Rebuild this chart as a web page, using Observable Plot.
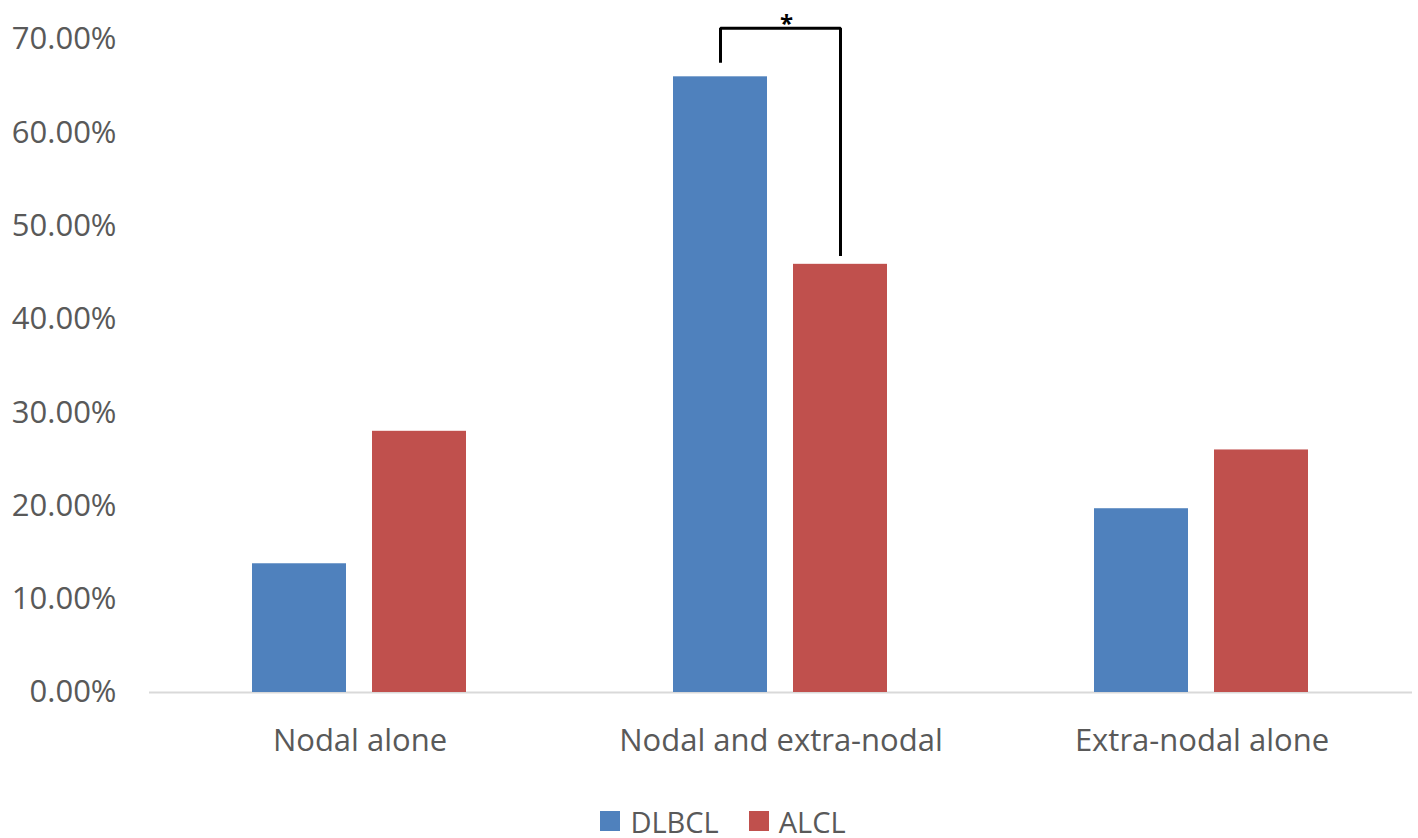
<!DOCTYPE html>
<html>
<head>
<meta charset="utf-8">
<script src="https://cdn.jsdelivr.net/npm/d3@7"></script>
<script src="https://cdn.jsdelivr.net/npm/@observablehq/plot@0.6"></script>
<style>
  html, body { margin: 0; padding: 0; background: #fff; overflow: hidden; }
  #chart svg { display: block; }
  #legend { display: flex; justify-content: center; align-items: center; font-family: "Open Sans", sans-serif; font-size: 29px; line-height: 1; color: #595959; height: 34px; padding-left: 28px; padding-top: 12px; }
  #legend .item { display: flex; align-items: center; margin: 0 15px; }
  #legend .sw { width: 20px; height: 20px; margin-right: 10px; }
</style>
</head>
<body>
<div id="chart"></div>
<div id="legend"></div>
<script>
const categories = ["Nodal alone", "Nodal and extra-nodal", "Extra-nodal alone"];
const series = ["DLBCL", "ALCL"];
const colors = ["#4F81BD", "#C0504D"];
const dlbclValues = [0.138, 0.660, 0.197];
const alclValues = [0.280, 0.459, 0.260];
const yTicks = [0, 0.1, 0.2, 0.3, 0.4, 0.5, 0.6, 0.7];
// significance bracket (category, series, value)
const bracketCategory = "Nodal and extra-nodal";
const bracketSeries = ["DLBCL", "DLBCL", "ALCL", "ALCL"];
const bracketValues = [0.675, 0.712, 0.712, 0.468];
const starLabel = "*";
const starValue = 0.716;

const data = categories.flatMap((c, i) => [
  {category: c, series: "DLBCL", value: dlbclValues[i]},
  {category: c, series: "ALCL", value: alclValues[i]}
]);
const bracket = bracketSeries.map((s, i) => ({category: bracketCategory, series: s, value: bracketValues[i]}));

const chart = Plot.plot({
  width: 1418,
  height: 792,
  marginLeft: 148,
  marginRight: 5,
  marginTop: 39,
  marginBottom: 100,
  style: {fontFamily: "Open Sans, sans-serif", fontSize: "31px", color: "#595959", background: "#fff"},
  fx: {domain: categories, padding: 0, axis: "bottom", label: null, tickSize: 0, tickPadding: 36},
  x: {domain: series, paddingInner: 0.215, paddingOuter: 0.85, axis: null},
  y: {domain: [0, 0.7], ticks: yTicks, tickFormat: d3.format(".2%"), tickSize: 0, tickPadding: 33, label: null},
  color: {domain: series, range: colors},
  marks: [
    Plot.ruleY([0], {stroke: "#D9D9D9", strokeWidth: 2}),
    Plot.barY(data, {fx: "category", x: "series", y: "value", fill: "series"}),
    Plot.line(bracket, {fx: "category", x: "series", y: "value", stroke: "#000", strokeWidth: 3, strokeLinejoin: "miter", strokeLinecap: "butt"}),
    Plot.text([{category: bracketCategory, series: "DLBCL", value: starValue}], {fx: "category", x: "series", y: "value", text: () => starLabel, dx: 66, fill: "#000", fontSize: 24, fontWeight: "bold"})
  ]
});
document.getElementById("chart").appendChild(chart);

const legend = document.getElementById("legend");
series.forEach((s, i) => {
  const item = document.createElement("div");
  item.className = "item";
  const sw = document.createElement("div");
  sw.className = "sw";
  sw.style.background = colors[i];
  const lab = document.createElement("span");
  lab.textContent = s;
  item.appendChild(sw);
  item.appendChild(lab);
  legend.appendChild(item);
});
</script>
</body>
</html>
